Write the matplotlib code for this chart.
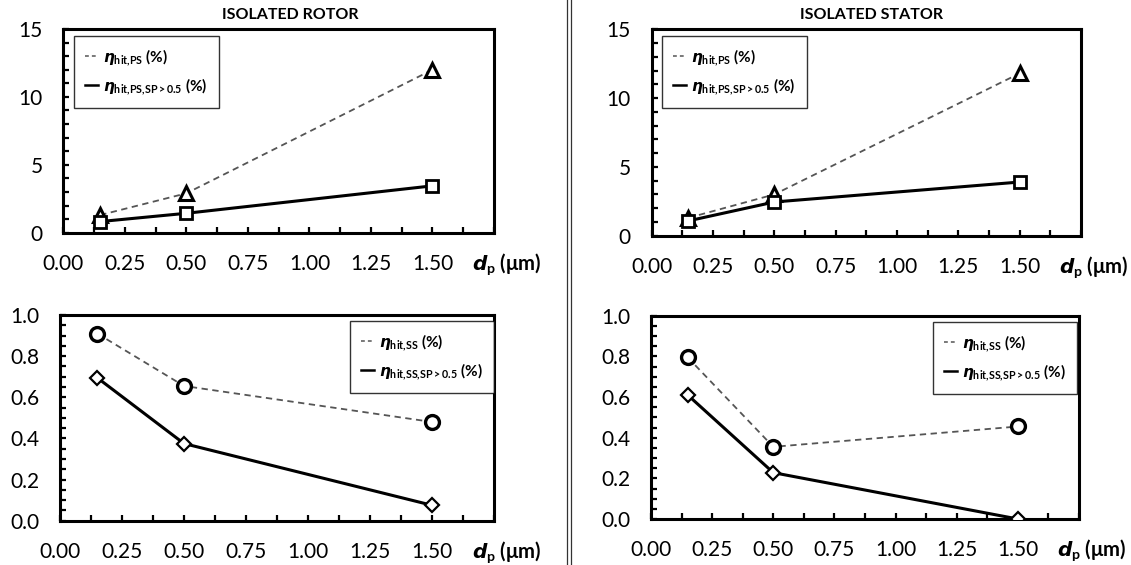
import matplotlib
matplotlib.use("Agg")
import matplotlib.pyplot as plt
from matplotlib.lines import Line2D
from matplotlib.ticker import MultipleLocator, FormatStrFormatter

plt.rcParams['font.family'] = ['Lato', 'DejaVu Sans']
plt.rcParams['mathtext.fontset'] = 'custom'
plt.rcParams['mathtext.rm'] = 'Lato'
plt.rcParams['mathtext.it'] = 'Lato:italic'
plt.rcParams['mathtext.bf'] = 'Lato:bold'
plt.rcParams['mathtext.bfit'] = 'DejaVu Sans:italic:bold'

# particle diameters (µm)
dp = [0.15, 0.5, 1.5]

# pressure side hit efficiency (%)
rotor_ps = [1.3, 2.9, 12.0]
rotor_ps_sp = [0.82, 1.43, 3.45]
stator_ps = [1.3, 3.0, 11.8]
stator_ps_sp = [1.08, 2.45, 3.9]

# suction side hit efficiency (%)
rotor_ss = [0.91, 0.655, 0.48]
rotor_ss_sp = [0.695, 0.375, 0.075]
stator_ss = [0.795, 0.355, 0.455]
stator_ss_sp = [0.61, 0.228, 0.0]

titles = ["ISOLATED ROTOR", "ISOLATED STATOR"]
x_ticklabels = ["0.00", "0.25", "0.50", "0.75", "1.00", "1.25", "1.50"]
ps_labels = [r"$\mathbfit{\eta}_{\mathbf{hit{,}PS}}$ (%)",
             r"$\mathbfit{\eta}_{\mathbf{hit{,}PS{,}SP{>}0.5}}$ (%)"]
ss_labels = [r"$\mathbfit{\eta}_{\mathbf{hit{,}SS}}$ (%)",
             r"$\mathbfit{\eta}_{\mathbf{hit{,}SS{,}SP{>}0.5}}$ (%)"]

W, H = 1131, 565
fig = plt.figure(figsize=(W / 100, H / 100), dpi=100)
fig.patch.set_facecolor("white")


def px_axes(left, top, right, bottom):
    return fig.add_axes([left / W, 1 - bottom / H, (right - left) / W, (bottom - top) / H])


DASH_COLOR = "#555555"


def style_axes(ax, ymax, ymajor, yminor, yfmt):
    ax.set_xlim(0, 1.75)
    ax.set_ylim(0, ymax)
    ax.xaxis.set_minor_locator(MultipleLocator(0.125))
    ax.yaxis.set_major_locator(MultipleLocator(ymajor))
    ax.yaxis.set_minor_locator(MultipleLocator(yminor))
    ax.yaxis.set_major_formatter(FormatStrFormatter(yfmt))
    ax.set_xticks([0, 0.25, 0.5, 0.75, 1.0, 1.25, 1.5, 1.75])
    ax.set_xticklabels(x_ticklabels + [""])
    for s in ax.spines.values():
        s.set_linewidth(2.2)
        s.set_color("black")
    ax.tick_params(axis="both", which="both", direction="in", length=4,
                   width=1.6, labelsize=15, color="black")
    ax.tick_params(axis="x", which="both", pad=15, top=False)
    ax.tick_params(axis="y", which="both", pad=15, right=False)
    ax.text(1.66, -0.183, r"$\mathbfit{d}_{\mathbf{p}}$ (μm)",
            transform=ax.get_xaxis_transform(), ha="left", va="baseline",
            fontsize=14.5, fontweight="bold")


def add_legend(ax, labels, anchor_px):
    handles = [Line2D([], [], color=DASH_COLOR, lw=1.1, ls=(0, (2.5, 2))),
               Line2D([], [], color="black", lw=1.8)]
    leg = ax.legend(handles, labels, loc="upper left",
                    bbox_to_anchor=(anchor_px[0] / W, 1 - anchor_px[1] / H),
                    bbox_transform=fig.transFigure,
                    prop={"size": 11, "weight": "bold"},
                    frameon=True, fancybox=False, handlelength=0.85,
                    handletextpad=0.3, borderpad=0.75, labelspacing=0.55,
                    borderaxespad=0)
    leg.get_frame().set_edgecolor("black")
    leg.get_frame().set_linewidth(1.0)


def plot_ps(ax, ps, ps_sp):
    ax.plot(dp, ps, color=DASH_COLOR, lw=1.3, ls=(0, (3.5, 2.5)), zorder=2)
    ax.plot(dp, ps, ls="none", marker="^", ms=10, mfc="white", mec="black",
            mew=2.2, zorder=3)
    ax.plot(dp, ps_sp, color="black", lw=2.2, marker="s", ms=8.5, mfc="white",
            mec="black", mew=2.0, zorder=4)


def plot_ss(ax, ss, ss_sp):
    ax.plot(dp, ss, color=DASH_COLOR, lw=1.3, ls=(0, (3.5, 2.5)), marker="o",
            ms=10, mfc="white", mec="black", mew=2.4, zorder=3)
    ax.plot(dp, ss_sp, color="black", lw=2.2, marker="D", ms=7, mfc="white",
            mec="black", mew=1.6, zorder=4)


# top row: pressure side
ax1 = px_axes(63.3, 29, 494, 232.7)
style_axes(ax1, 15, 5, 1, "%d")
plot_ps(ax1, rotor_ps, rotor_ps_sp)
add_legend(ax1, ps_labels, (74, 35.7))

ax2 = px_axes(651.7, 29.3, 1081, 235.7)
style_axes(ax2, 15, 5, 1, "%d")
plot_ps(ax2, stator_ps, stator_ps_sp)
add_legend(ax2, ps_labels, (662, 35.7))

# bottom row: suction side
ax3 = px_axes(60, 315, 494, 520.7)
style_axes(ax3, 1.0, 0.2, 0.05, "%.1f")
plot_ss(ax3, rotor_ss, rotor_ss_sp)
add_legend(ax3, ss_labels, (350, 320.7))

ax4 = px_axes(651, 315.7, 1079, 519)
style_axes(ax4, 1.0, 0.2, 0.05, "%.1f")
plot_ss(ax4, stator_ss, stator_ss_sp)
add_legend(ax4, ss_labels, (932.7, 321.7))

fig.text(290 / W, 1 - 15 / H, titles[0], ha="center", va="center",
         fontsize=11.5, fontweight="bold")
fig.text(872 / W, 1 - 15 / H, titles[1], ha="center", va="center",
         fontsize=11.5, fontweight="bold")

# double divider between the two columns
for xp in (566.5, 570.5):
    fig.add_artist(Line2D([xp / W, xp / W], [0, 1], transform=fig.transFigure,
                          color="#333333", lw=0.9))

fig.savefig("out.png", dpi=100)
